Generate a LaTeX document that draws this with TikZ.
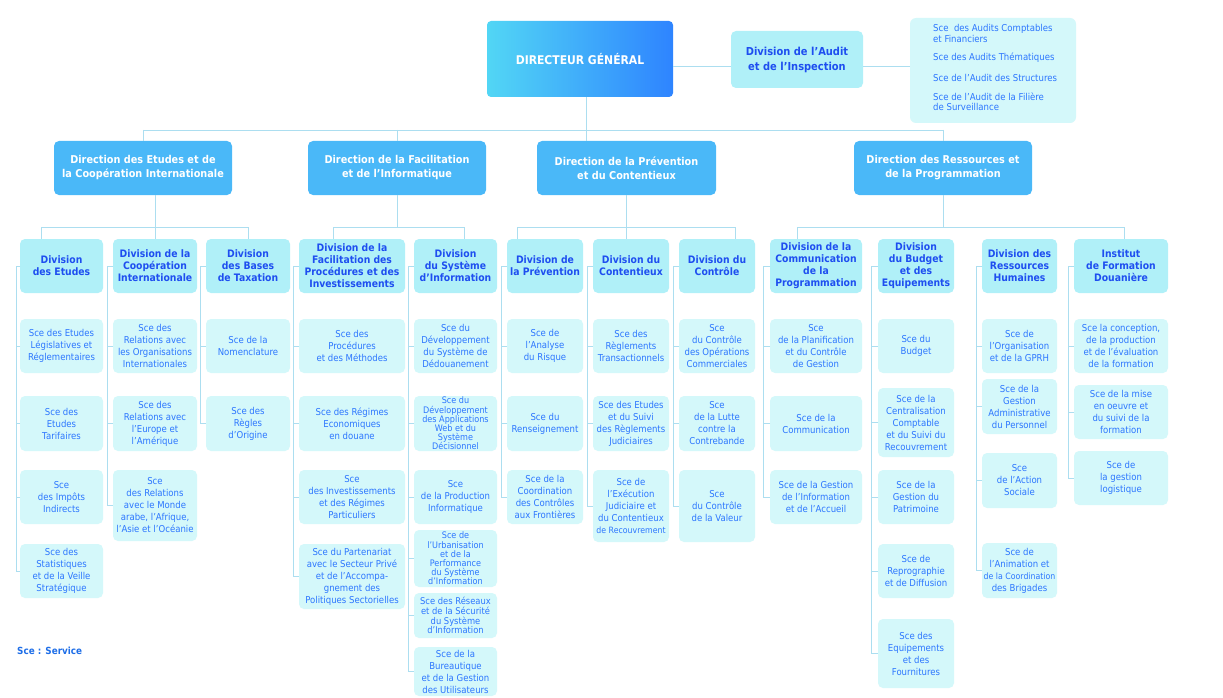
\documentclass[tikz,border=0pt]{standalone}
\usepackage{fontspec}
\setmainfont{DejaVu Sans}[FakeStretch=0.9]
\usetikzlibrary{shadings}
\definecolor{linec}{RGB}{172,222,240}
\definecolor{divfill}{RGB}{176,240,248}
\definecolor{svcfill}{RGB}{212,248,250}
\definecolor{dirfill}{RGB}{74,184,248}
\definecolor{dgleft}{RGB}{82,214,245}
\definecolor{dgright}{RGB}{46,132,255}
\definecolor{divtext}{RGB}{30,78,240}
\definecolor{svctext}{RGB}{44,118,255}
\definecolor{legtext}{RGB}{30,110,232}
\newcommand\obox[7]{\node[#1, minimum width={(#5-#3)*1pt}, minimum height={(#6-#4)*1pt}] (#2) at ({(#3+#5)/2},{(#4+#6)/2}) {#7};}
\newcommand\narrowline[1]{{\fontsize{8.7}{12}\selectfont #1}}
\tikzset{
 base/.style={inner sep=0pt, outer sep=0pt, rounded corners=5pt, align=center},
 dgbox/.style={base, left color=dgleft, right color=dgright, rounded corners=4pt, text=white, font=\bfseries\fontsize{12}{14}\selectfont},
 dirbox/.style={base, fill=dirfill, text=white, font=\bfseries\fontsize{10.8}{14}\selectfont},
 divbox/.style={base, fill=divfill, text=divtext, font=\bfseries\fontsize{10.3}{12}\selectfont},
 auditbox/.style={divbox, font=\bfseries\fontsize{11}{15}\selectfont},
 svcbox/.style={base, fill=svcfill, text=svctext, font=\fontsize{9.5}{12}\selectfont},
 tightsvc/.style={font=\fontsize{9}{9.2}\selectfont},
 midsvc/.style={font=\fontsize{9.3}{9.8}\selectfont},
 conn/.style={draw=linec, line width=0.9pt},
}
\begin{document}
\begin{tikzpicture}[x=1pt,y=-1pt]
\path[use as bounding box, fill=white] (0,0) rectangle (1223,698);
% top
\obox{dgbox}{dg}{487}{21}{673}{97}{DIRECTEUR GÉNÉRAL}
\obox{auditbox}{audit}{731}{31}{863}{88}{Division de l’Audit\\et de l’Inspection}
\obox{svcbox, rounded corners=6pt}{auditsvc}{910}{18}{1076}{123}{}
\node[anchor=north west, inner sep=0pt, align=left, text=svctext, font=\fontsize{9.5}{10}\selectfont] (audittxt) at (933,24.5) {Sce\ \ des Audits Comptables\\[1pt]et Financiers\\[8pt]Sce des Audits Thématiques\\[11pt]Sce de l'Audit des Structures\\[9pt]Sce de l'Audit de la Filière\\de Surveillance};
% directions
\obox{dirbox}{detudes}{54}{141}{232}{195}{Direction des Etudes et de\\la Coopération Internationale}
\obox{dirbox}{dfacil}{308}{141}{486}{195}{Direction de la Facilitation\\et de l’Informatique}
\obox{dirbox}{dprev}{537}{141}{716}{195}{Direction de la Prévention\\et du Contentieux}
\obox{dirbox}{dress}{854}{141}{1032}{195}{Direction des Ressources et\\de la Programmation}
% divisions
\obox{divbox}{vetudes}{20}{239}{103}{293}{Division\\des Etudes}
\obox{divbox}{vcoop}{113}{239}{197}{293}{Division de la\\Coopération\\Internationale}
\obox{divbox}{vbases}{206}{239}{290}{293}{Division\\des Bases\\de Taxation}
\obox{divbox}{vfacil}{299}{239}{405}{293}{Division de la\\Facilitation des\\Procédures et des\\Investissements}
\obox{divbox}{vsys}{414}{239}{497}{293}{Division\\du Système\\d’Information}
\obox{divbox}{vprev}{507}{239}{583}{293}{Division de\\la Prévention}
\obox{divbox}{vcont}{593}{239}{669}{293}{Division du\\Contentieux}
\obox{divbox}{vctrl}{679}{239}{755}{293}{Division du\\Contrôle}
\obox{divbox}{vcomm}{770}{239}{862}{293}{Division de la\\Communication\\de la\\Programmation}
\obox{divbox}{vbudget}{878}{239}{954}{293}{Division\\du Budget\\et des\\Equipements}
\obox{divbox}{vrh}{982}{239}{1057}{293}{Division des\\Ressources\\Humaines}
\obox{divbox}{vinst}{1074}{239}{1168}{293}{Institut\\de Formation\\Douanière}
% services: Etudes
\obox{svcbox}{s11}{20}{319}{103}{373}{Sce des Etudes\\Législatives et\\Réglementaires}
\obox{svcbox}{s12}{20}{396}{103}{451}{Sce des\\Etudes\\Tarifaires}
\obox{svcbox}{s13}{20}{470}{103}{524}{Sce\\des Impôts\\Indirects}
\obox{svcbox}{s14}{20}{544}{103}{598}{Sce des\\Statistiques\\et de la Veille\\Stratégique}
% Coop
\obox{svcbox}{s21}{113}{319}{197}{373}{Sce des\\Relations avec\\les Organisations\\Internationales}
\obox{svcbox}{s22}{113}{396}{197}{451}{Sce des\\Relations avec\\l’Europe et\\l’Amérique}
\obox{svcbox}{s23}{113}{470}{197}{541}{Sce\\des Relations\\avec le Monde\\arabe, l’Afrique,\\l’Asie et l’Océanie}
% Bases
\obox{svcbox}{s31}{206}{319}{290}{373}{Sce de la\\Nomenclature}
\obox{svcbox}{s32}{206}{396}{290}{451}{Sce des\\Règles\\d’Origine}
% Facil
\obox{svcbox}{s41}{299}{319}{405}{373}{Sce des\\Procédures\\et des Méthodes}
\obox{svcbox}{s42}{299}{396}{405}{451}{Sce des Régimes\\Economiques\\en douane}
\obox{svcbox}{s43}{299}{470}{405}{524}{Sce\\des Investissements\\et des Régimes\\Particuliers}
\obox{svcbox}{s44}{299}{544}{405}{609}{Sce du Partenariat\\avec le Secteur Privé\\et de l'Accompa-\\gnement des\\Politiques Sectorielles}
% Systeme
\obox{svcbox}{s51}{414}{319}{497}{373}{Sce du\\Développement\\du Système de\\Dédouanement}
\obox{svcbox,tightsvc}{s52}{414}{396}{497}{451}{Sce du\\Développement\\des Applications\\Web et du\\Système\\Décisionnel}
\obox{svcbox}{s53}{414}{470}{497}{524}{Sce\\de la Production\\Informatique}
\obox{svcbox,tightsvc}{s54}{414}{530}{497}{587}{Sce de\\l'Urbanisation\\et de la\\Performance\\du Système\\d'Information}
\obox{svcbox,midsvc}{s55}{414}{593}{497}{638}{Sce des Réseaux\\et de la Sécurité\\du Système\\d'Information}
\obox{svcbox}{s56}{414}{647}{497}{696}{Sce de la\\Bureautique\\et de la Gestion\\des Utilisateurs}
% Prevention
\obox{svcbox}{s61}{507}{319}{583}{373}{Sce de\\l’Analyse\\du Risque}
\obox{svcbox}{s62}{507}{396}{583}{451}{Sce du\\Renseignement}
\obox{svcbox}{s63}{507}{470}{583}{524}{Sce de la\\Coordination\\des Contrôles\\aux Frontières}
% Contentieux
\obox{svcbox}{s71}{593}{319}{669}{373}{Sce des\\Règlements\\Transactionnels}
\obox{svcbox}{s72}{593}{396}{669}{451}{Sce des Etudes\\et du Suivi\\des Règlements\\Judiciaires}
\obox{svcbox}{s73}{593}{470}{669}{542}{Sce de\\l’Exécution\\Judiciaire et\\du Contentieux\\\narrowline{de Recouvrement}}
% Controle
\obox{svcbox}{s81}{679}{319}{755}{373}{Sce\\du Contrôle\\des Opérations\\Commerciales}
\obox{svcbox}{s82}{679}{396}{755}{451}{Sce\\de la Lutte\\contre la\\Contrebande}
\obox{svcbox}{s83}{679}{470}{755}{542}{Sce\\du Contrôle\\de la Valeur}
% Communication
\obox{svcbox}{s91}{770}{319}{862}{373}{Sce\\de la Planification\\et du Contrôle\\de Gestion}
\obox{svcbox}{s92}{770}{396}{862}{451}{Sce de la\\Communication}
\obox{svcbox}{s93}{770}{470}{862}{524}{Sce de la Gestion\\de l'Information\\et de l'Accueil}
% Budget
\obox{svcbox}{sA1}{878}{319}{954}{373}{Sce du\\Budget}
\obox{svcbox}{sA2}{878}{388}{954}{457}{Sce de la\\Centralisation\\Comptable\\et du Suivi du\\Recouvrement}
\obox{svcbox}{sA3}{878}{470}{954}{524}{Sce de la\\Gestion du\\Patrimoine}
\obox{svcbox}{sA4}{878}{544}{954}{598}{Sce de\\Reprographie\\et de Diffusion}
\obox{svcbox}{sA5}{878}{619}{954}{688}{Sce des\\Equipements\\et des\\Fournitures}
% RH
\obox{svcbox}{sB1}{982}{319}{1057}{373}{Sce de\\l’Organisation\\et de la GPRH}
\obox{svcbox}{sB2}{982}{379}{1057}{434}{Sce de la\\Gestion\\Administrative\\du Personnel}
\obox{svcbox}{sB3}{982}{453}{1057}{508}{Sce\\de l’Action\\Sociale}
\obox{svcbox}{sB4}{982}{543}{1057}{598}{Sce de\\l'Animation et\\\narrowline{de la Coordination}\\des Brigades}
% Institut
\obox{svcbox}{sC1}{1074}{319}{1168}{373}{Sce la conception,\\de la production\\et de l’évaluation\\de la formation}
\obox{svcbox}{sC2}{1074}{385}{1168}{439}{Sce de la mise\\en oeuvre et\\du suivi de la\\formation}
\obox{svcbox}{sC3}{1074}{451}{1168}{505}{Sce de\\la gestion\\logistique}
% legend
\node[anchor=west, inner sep=0pt, text=legtext, font=\bfseries\fontsize{9.8}{11}\selectfont] (legend) at (17,651) {Sce : Service};
% ---- connectors
\coordinate (bar) at (0,130);
\coordinate (barb) at (0,227);
\coordinate (hA) at (0,66);
\draw[conn] (dg.east |- hA) -- (audit.west |- hA);
\draw[conn] (audit.east |- hA) -- (auditsvc.west |- hA);
\coordinate (dgs) at ([xshift=6pt]dg.south);
\draw[conn] (dgs) -- (dgs |- dprev.north);
\draw[conn] (detudes.north |- bar) -- (dress.north |- bar);
\draw[conn] (detudes.north |- bar) -- (detudes.north);
\draw[conn] (dfacil.north |- bar) -- (dfacil.north);
\draw[conn] (dress.north |- bar) -- (dress.north);
% Etudes group
\coordinate (eL) at ([xshift=-20pt]vetudes.north);
\draw[conn] (vcoop.north |- detudes.south) -- (vcoop.north);
\draw[conn] (eL) -- (eL |- barb) -- (vbases.north |- barb) -- (vbases.north);
% Facil group
\coordinate (fL) at ([xshift=-19pt]vfacil.north);
\coordinate (fR) at ([xshift=9pt]vsys.north);
\draw[conn] (dfacil.south) -- (dfacil.south |- barb);
\draw[conn] (fL) -- (fL |- barb) -- (fR |- barb) -- (fR);
% Prevention group
\coordinate (pL) at ([xshift=-28pt]vprev.north);
\coordinate (pR) at ([xshift=18pt]vctrl.north);
\draw[conn] (dprev.south) -- (dprev.south |- vcont.north);
\draw[conn] (pL) -- (pL |- barb) -- (pR |- barb) -- (pR);
% Ressources group
\coordinate (rL) at ([xshift=-19pt]vcomm.north);
\coordinate (rR) at ([xshift=3pt]vinst.north);
\draw[conn] (dress.south) -- (dress.south |- barb);
\draw[conn] (rL) -- (rL |- barb) -- (rR |- barb) -- (rR);
% service columns
\draw[conn] (vetudes.west) -- ++(-4,0) |- (s14.west);
\foreach \s in {s11,s12,s13} \draw[conn] (\s.west) -- ++(-4,0);
\draw[conn] (vcoop.west) -- ++(-6,0) |- (s23.west);
\foreach \s in {s21,s22} \draw[conn] (\s.west) -- ++(-6,0);
\draw[conn] (vbases.west) -- ++(-6,0) |- (s32.west);
\foreach \s in {s31} \draw[conn] (\s.west) -- ++(-6,0);
\draw[conn] (vfacil.west) -- ++(-6,0) |- (s44.west);
\foreach \s in {s41,s42,s43} \draw[conn] (\s.west) -- ++(-6,0);
\draw[conn] (vsys.west) -- ++(-6,0) |- (s56.west);
\foreach \s in {s51,s52,s53,s54,s55} \draw[conn] (\s.west) -- ++(-6,0);
\draw[conn] (vprev.west) -- ++(-6,0) |- (s63.west);
\foreach \s in {s61,s62} \draw[conn] (\s.west) -- ++(-6,0);
\draw[conn] (vcont.west) -- ++(-6,0) |- (s73.west);
\foreach \s in {s71,s72} \draw[conn] (\s.west) -- ++(-6,0);
\draw[conn] (vctrl.west) -- ++(-6,0) |- (s83.west);
\foreach \s in {s81,s82} \draw[conn] (\s.west) -- ++(-6,0);
\draw[conn] (vcomm.west) -- ++(-7,0) |- (s93.west);
\foreach \s in {s91,s92} \draw[conn] (\s.west) -- ++(-7,0);
\draw[conn] (vbudget.west) -- ++(-7,0) |- (sA5.west);
\foreach \s in {sA1,sA2,sA3,sA4} \draw[conn] (\s.west) -- ++(-7,0);
\draw[conn] (vrh.west) -- ++(-6,0) |- (sB4.west);
\foreach \s in {sB1,sB2,sB3} \draw[conn] (\s.west) -- ++(-6,0);
\draw[conn] (vinst.west) -- ++(-6,0) |- (sC3.west);
\foreach \s in {sC1,sC2} \draw[conn] (\s.west) -- ++(-6,0);
\end{tikzpicture}
\end{document}
